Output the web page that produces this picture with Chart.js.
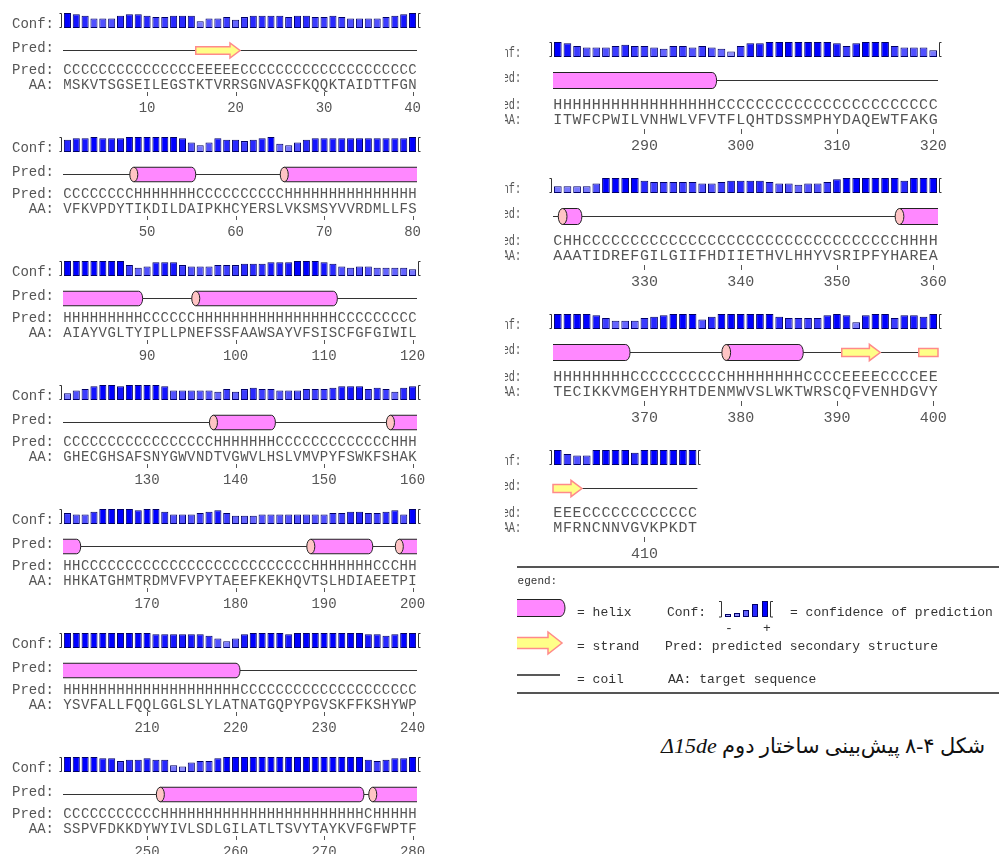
<!DOCTYPE html>
<html>
<head>
<meta charset="utf-8">
<script src="https://cdn.jsdelivr.net/npm/chart.js@4.4.0/dist/chart.umd.min.js"></script>
<style>
  body { margin: 0; background: #fff; width: 999px; height: 854px; overflow: hidden; position: relative; }
  canvas { position: absolute; }
  #caption { position: absolute; right: 14px; top: 733px; direction: rtl; white-space: nowrap;
    font: 21px "Liberation Serif", "DejaVu Sans", serif; color: #111; }
  #caption i { font-family: "Liberation Serif", serif; font-size: 22px; }
</style>
</head>
<body>
<div id="caption">شکل ۴-۸ پیش‌بینی ساختار دوم <i>Δ15de</i></div>
<script>
// amino acid sequence, 40 residues per block (spaces only for readability)
const aaBlocks = [
  "MSKVTSGSEI LEGSTKTVRR SGNVASFKQQ KTAIDTTFGN",
  "VFKVPDYTIK DILDAIPKHC YERSLVKSMS YVVRDMLLFS",
  "AIAYVGLTYI PLLPNEFSSF AAWSAYVFSI SCFGFGIWIL",
  "GHECGHSAFS NYGWVNDTVG WVLHSLVMVP YFSWKFSHAK",
  "HHKATGHMTR DMVFVPYTAE EFKEKHQVTS LHDIAEETPI",
  "YSVFALLFQQ LGGLSLYLAT NATGQPYPGV SKFFKSHYWP",
  "SSPVFDKKDY WYIVLSDLGI LATLTSVYTA YKVFGFWPTF",
  "ITWFCPWILV NHWLVFVTFL QHTDSSMPHY DAQEWTFAKG",
  "AAATIDREFG ILGIIFHDII ETHVLHHYVS RIPFYHAREA",
  "TECIKKVMGE HYRHTDENMW VSLWKTWRSC QFVENHDGVY",
  "MFRNCNNVGV KPKDT"
].map(s => s.replace(/ /g, ""));

// predicted secondary structure (H helix, E strand, C coil)
const predBlocks = [
  "CCCCCCCCCC CCCCCEEEEE CCCCCCCCCC CCCCCCCCCC",
  "CCCCCCCCHH HHHHHCCCCC CCCCCHHHHH HHHHHHHHHH",
  "HHHHHHHHHC CCCCCHHHHH HHHHHHHHHH HCCCCCCCCC",
  "CCCCCCCCCC CCCCCCCHHH HHHHCCCCCC CCCCCCCHHH",
  "HHCCCCCCCC CCCCCCCCCC CCCCCCCCHH HHHHHCCCHH",
  "HHHHHHHHHH HHHHHHHHHH CCCCCCCCCC CCCCCCCCCC",
  "CCCCCCCCCC CHHHHHHHHH HHHHHHHHHH HHHHCHHHHH",
  "HHHHHHHHHH HHHHHHHCCC CCCCCCCCCC CCCCCCCCCC",
  "CHHCCCCCCC CCCCCCCCCC CCCCCCCCCC CCCCCCHHHH",
  "HHHHHHHHCC CCCCCCCCHH HHHHHHCCCC EEEECCCCEE",
  "EEECCCCCCC CCCCC"
].map(s => s.replace(/ /g, ""));

// confidence of prediction (0..9) per residue
const conf01 = [9,8,7,5,5,5,7,8,8,7, 6,6,7,7,7,3,5,5,6,4, 6,7,7,7,7,6,7,7,6,6, 7,6,5,5,5,5,6,7,8,9];
const conf02 = [7,8,8,9,8,8,8,9,9,9, 9,9,9,8,5,3,5,8,7,7, 6,7,8,9,4,3,5,7,8,8, 8,8,8,8,8,8,8,8,8,9];
const conf03 = [9,9,9,9,9,9,9,6,4,5, 8,8,8,6,5,5,5,6,6,6, 7,7,7,8,8,8,9,9,9,8, 7,5,4,5,5,4,4,4,4,3];
const conf04 = [3,5,6,8,9,9,8,9,9,9, 9,8,5,5,5,5,5,4,6,4, 6,7,6,6,5,5,5,6,6,6, 7,8,8,8,6,7,6,4,7,8];
const conf05 = [6,5,5,7,9,9,9,9,8,9, 9,7,5,5,5,6,7,8,6,4, 4,4,5,5,5,5,5,5,5,5, 6,6,7,7,6,6,7,8,5,9];
const conf06 = [9,9,9,9,9,9,9,9,9,9, 8,8,8,8,8,8,7,5,3,5, 8,9,9,9,9,8,9,9,9,9, 9,9,9,9,8,8,7,8,9,9];
const conf07 = [9,9,9,9,8,8,6,7,7,8, 7,7,3,2,5,6,6,8,9,9, 9,9,9,9,9,9,9,9,9,9, 9,9,9,9,7,6,7,8,8,9];
const conf08 = [9,8,6,5,5,5,6,7,6,6, 5,4,6,6,5,6,5,4,2,6, 8,8,9,9,9,9,9,9,9,8, 6,8,9,9,9,6,5,5,5,3];
const conf09 = [3,3,3,3,5,9,9,9,9,7, 6,6,6,6,6,5,5,6,7,7, 7,7,6,5,5,4,5,5,6,8, 9,9,9,9,9,9,7,9,9,9];
const conf10 = [9,9,9,9,8,6,4,4,4,6, 7,8,9,9,9,5,7,9,9,9, 9,9,9,7,6,6,6,6,8,9, 8,3,8,9,9,6,8,8,7,9];
const conf11 = [9,6,5,5,9,9,9,9,7,9, 9,9,9,9,9];
const confBlocks = [conf01, conf02, conf03, conf04, conf05, conf06, conf07, conf08, conf09, conf10, conf11];

const tickNumbers = [10,20,30,40,50,60,70,80,90,100,110,120,130,140,150,160,170,180,190,200,
  210,220,230,240,250,260,270,280,290,300,310,320,330,340,350,360,370,380,390,400,410];

// legend sample bars for "Conf:"
const legendConf = [1, 2, 4, 7, 9];

// layout of the two columns of the figure
const LEFT = { left: 0, width: 445, x0: 63, rw: 8.85, labelEnd: 54, labelScale: 1, font: 14, barH: 15,
  dPred: 22, hH: 14.5, dPredText: 46, dAA: 61, dTick: [64, 68], dNum: 84, s: 1,
  bottoms: [28, 152, 276, 400, 524, 648, 772] };
const RIGHT = { left: 505, width: 494, x0: 48, rw: 9.625, labelEnd: 16, labelScale: 0.68, font: 15, barH: 15,
  dPred: 23, hH: 16, dPredText: 52, dAA: 67, dTick: [72, 77], dNum: 93, s: 1.088,
  bottoms: [57, 193, 329, 465] };

const TEXT = "#555";
const confColor = v => { const c = Math.round((9 - v) * 20); return `rgb(${c},${c},255)`; };

function drawHelix(ctx, x1, x2, cy, h, rx, cap, round) {
  const t = cy - h / 2, b = cy + h / 2;
  ctx.beginPath();
  ctx.moveTo(x1, t);
  if (round) { ctx.lineTo(x2 - rx, t); ctx.ellipse(x2 - rx, cy, rx, h / 2, 0, -Math.PI / 2, Math.PI / 2); }
  else { ctx.lineTo(x2, t); ctx.lineTo(x2, b); }
  ctx.lineTo(x1, b);
  ctx.closePath();
  ctx.fillStyle = "#ff88ff";
  ctx.fill();
  ctx.beginPath();
  ctx.moveTo(x1, t);
  if (round) { ctx.lineTo(x2 - rx, t); ctx.ellipse(x2 - rx, cy, rx, h / 2, 0, -Math.PI / 2, Math.PI / 2); ctx.lineTo(x1, b); }
  else { ctx.lineTo(x2, t); ctx.moveTo(x2, b); ctx.lineTo(x1, b); }
  ctx.strokeStyle = "#222";
  ctx.lineWidth = 1;
  ctx.stroke();
  if (cap) {
    ctx.beginPath();
    ctx.ellipse(x1, cy, rx, h / 2, 0, 0, Math.PI * 2);
    ctx.fillStyle = "#ffc4c4";
    ctx.fill();
    ctx.stroke();
  }
}

function drawStrand(ctx, x1, x2, cy, bh, hh, hl, head) {
  ctx.beginPath();
  ctx.moveTo(x1, cy - bh / 2);
  if (head) {
    ctx.lineTo(x2 - hl, cy - bh / 2);
    ctx.lineTo(x2 - hl, cy - hh / 2);
    ctx.lineTo(x2, cy);
    ctx.lineTo(x2 - hl, cy + hh / 2);
    ctx.lineTo(x2 - hl, cy + bh / 2);
  } else {
    ctx.lineTo(x2, cy - bh / 2);
    ctx.lineTo(x2, cy + bh / 2);
  }
  ctx.lineTo(x1, cy + bh / 2);
  ctx.closePath();
  ctx.fillStyle = "#ffff88";
  ctx.fill();
  ctx.strokeStyle = "#ff8a8a";
  ctx.lineWidth = 1.5;
  ctx.stroke();
}

function drawLegend(ctx, ox, oy) {
  const X = x => x - ox, Y = y => y - oy;
  ctx.save();
  ctx.beginPath();
  ctx.rect(X(517), Y(560), 999, 140);
  ctx.clip();
  ctx.strokeStyle = "#555";
  ctx.lineWidth = 2;
  ctx.beginPath();
  ctx.moveTo(X(517), Y(567)); ctx.lineTo(X(999), Y(567));
  ctx.moveTo(X(517), Y(693)); ctx.lineTo(X(999), Y(693));
  ctx.stroke();
  ctx.fillStyle = "#333";
  ctx.textAlign = "left";
  ctx.font = '11px "Liberation Mono", monospace';
  ctx.fillText("Legend:", X(511), Y(584));
  ctx.font = '13px "Liberation Mono", monospace';
  // helix
  drawHelix(ctx, X(505), X(565), Y(608), 17, 5, false, true);
  ctx.fillStyle = "#333";
  ctx.fillText("= helix", X(577), Y(616));
  ctx.fillText("Conf:", X(667), Y(616));
  // confidence sample bars
  const bx = [725, 734, 743, 752, 762];
  const bh = [3, 4, 7, 13, 16];
  legendConf.forEach((v, i) => {
    ctx.fillStyle = confColor(v);
    ctx.fillRect(X(bx[i]), Y(617) - bh[i], 6, bh[i]);
    ctx.strokeStyle = "#000066"; ctx.lineWidth = 1;
    ctx.strokeRect(X(bx[i]) + 0.5, Y(617) - bh[i] + 0.5, 5, bh[i] - 1);
  });
  ctx.strokeStyle = "#333"; ctx.lineWidth = 1;
  ctx.beginPath();
  ctx.moveTo(X(719), Y(601.5)); ctx.lineTo(X(721.5), Y(601.5)); ctx.lineTo(X(721.5), Y(617)); ctx.lineTo(X(719), Y(617));
  ctx.moveTo(X(773), Y(601.5)); ctx.lineTo(X(770.5), Y(601.5)); ctx.lineTo(X(770.5), Y(617)); ctx.lineTo(X(773), Y(617));
  ctx.stroke();
  ctx.fillStyle = "#333";
  ctx.fillText("= confidence of prediction", X(790), Y(616));
  ctx.textAlign = "center";
  ctx.fillText("-", X(729), Y(632));
  ctx.fillText("+", X(767), Y(632));
  ctx.textAlign = "left";
  // strand
  drawStrand(ctx, X(505), X(562), Y(643), 11, 22, 14, true);
  ctx.fillStyle = "#333";
  ctx.fillText("= strand", X(577), Y(650));
  ctx.fillText("Pred: predicted secondary structure", X(665), Y(650));
  // coil
  ctx.strokeStyle = "#222"; ctx.lineWidth = 1.5;
  ctx.beginPath(); ctx.moveTo(X(505), Y(675)); ctx.lineTo(X(560), Y(675)); ctx.stroke();
  ctx.fillText("= coil", X(577), Y(683));
  ctx.fillText("AA: target sequence", X(668), Y(683));
  ctx.restore();
}

function label(ctx, g, text, y) {
  ctx.save();
  ctx.translate(g.labelEnd, y);
  ctx.scale(g.labelScale, 1);
  ctx.fillText(text, 0, 0);
  ctx.restore();
}

function blockPlugin(k, g, top) {
  return {
    id: "psipred" + k,
    afterDraw(chart) {
      const ctx = chart.ctx, xs = chart.scales.x, ca = chart.chartArea;
      const aa = aaBlocks[k], ss = predBlocks[k], n = aa.length, rw = g.rw, s = g.s;
      const cx = i => xs.getPixelForValue(i);
      const xl = i => cx(i) - rw / 2, xr = i => cx(i) + rw / 2;
      const bot = ca.bottom;
      ctx.save();
      // brackets around the confidence bars
      ctx.strokeStyle = "#333"; ctx.lineWidth = 1;
      const bl = Math.round(xl(0)) - 1.5, br = Math.round(xr(n - 1)) + 1.5;
      ctx.beginPath();
      ctx.moveTo(bl - 2, ca.top + 0.5); ctx.lineTo(bl, ca.top + 0.5); ctx.lineTo(bl, bot - 0.5); ctx.lineTo(bl - 2, bot - 0.5);
      ctx.moveTo(br + 2, ca.top + 0.5); ctx.lineTo(br, ca.top + 0.5); ctx.lineTo(br, bot - 0.5); ctx.lineTo(br + 2, bot - 0.5);
      ctx.stroke();
      // row labels
      ctx.font = `${g.font}px "Liberation Mono", monospace`;
      ctx.fillStyle = TEXT; ctx.textAlign = "right"; ctx.textBaseline = "alphabetic";
      label(ctx, g, "Conf:", bot);
      label(ctx, g, "Pred:", bot + g.dPred + 2);
      label(ctx, g, "Pred:", bot + g.dPredText);
      label(ctx, g, "AA:", bot + g.dAA);
      // predicted structure graphic
      const py = Math.round(bot + g.dPred) + 0.5;
      ctx.strokeStyle = "#333"; ctx.lineWidth = 1;
      ctx.beginPath(); ctx.moveTo(xl(0), py); ctx.lineTo(xr(n - 1), py); ctx.stroke();
      const prev = k > 0 ? predBlocks[k - 1][39] : "";
      const next = k < predBlocks.length - 1 ? predBlocks[k + 1][0] : "";
      let i = 0;
      while (i < n) {
        let j = i;
        while (j + 1 < n && ss[j + 1] === ss[i]) j++;
        const contL = i === 0 && prev === ss[i];
        const contR = j === 39 && next === ss[i];
        if (ss[i] === "H") drawHelix(ctx, xl(i), xr(j), py, g.hH, 4 * s, !contL, !contR);
        if (ss[i] === "E") drawStrand(ctx, xl(i), xr(j), py, 7.5 * s, 15 * s, 10 * s, !contR);
        i = j + 1;
      }
      // sequence letters
      ctx.fillStyle = TEXT; ctx.textAlign = "center";
      for (let r = 0; r < n; r++) {
        ctx.fillText(ss[r], cx(r), bot + g.dPredText);
        ctx.fillText(aa[r], cx(r), bot + g.dAA);
      }
      // residue number ticks
      ctx.strokeStyle = TEXT; ctx.lineWidth = 1;
      tickNumbers.forEach(t => {
        const idx = t - 1 - k * 40;
        if (idx < 0 || idx >= n) return;
        const x = Math.round(cx(idx)) + 0.5;
        ctx.beginPath(); ctx.moveTo(x, bot + g.dTick[0]); ctx.lineTo(x, bot + g.dTick[1]); ctx.stroke();
        ctx.fillText(String(t), cx(idx), bot + g.dNum);
      });
      ctx.restore();
      if (k === aaBlocks.length - 1) drawLegend(ctx, g.left, top);
    }
  };
}

function makeBlock(k, g, row) {
  const top = g.bottoms[row] - g.barH - 8;
  const last = k === aaBlocks.length - 1;
  const H = last ? 700 - top : g.dNum + g.barH + 8 + 6;
  const canvas = document.createElement("canvas");
  canvas.width = g.width; canvas.height = H;
  canvas.style.left = g.left + "px"; canvas.style.top = top + "px";
  canvas.style.width = g.width + "px"; canvas.style.height = H + "px";
  document.body.appendChild(canvas);
  const labels = aaBlocks[k].split("");
  while (labels.length < 40) labels.push("");
  new Chart(canvas, {
    type: "bar",
    data: {
      labels,
      datasets: [{
        data: confBlocks[k],
        base: -2,
        backgroundColor: c => confColor(c.raw),
        borderColor: "#000066",
        borderWidth: 1,
        borderSkipped: false,
        barPercentage: 0.8,
        categoryPercentage: 1
      }]
    },
    options: {
      responsive: false,
      animation: false,
      devicePixelRatio: 1,
      events: [],
      layout: { padding: { left: g.x0, right: g.width - g.x0 - 40 * g.rw, top: 8, bottom: H - 8 - g.barH } },
      scales: {
        x: { display: false, offset: true },
        y: { display: false, min: -2, max: 9 }
      },
      plugins: { legend: { display: false }, tooltip: { enabled: false } }
    },
    plugins: [blockPlugin(k, g, top)]
  });
}

for (let r = 0; r < 7; r++) makeBlock(r, LEFT, r);
for (let r = 0; r < 4; r++) makeBlock(7 + r, RIGHT, r);
</script>
</body>
</html>
